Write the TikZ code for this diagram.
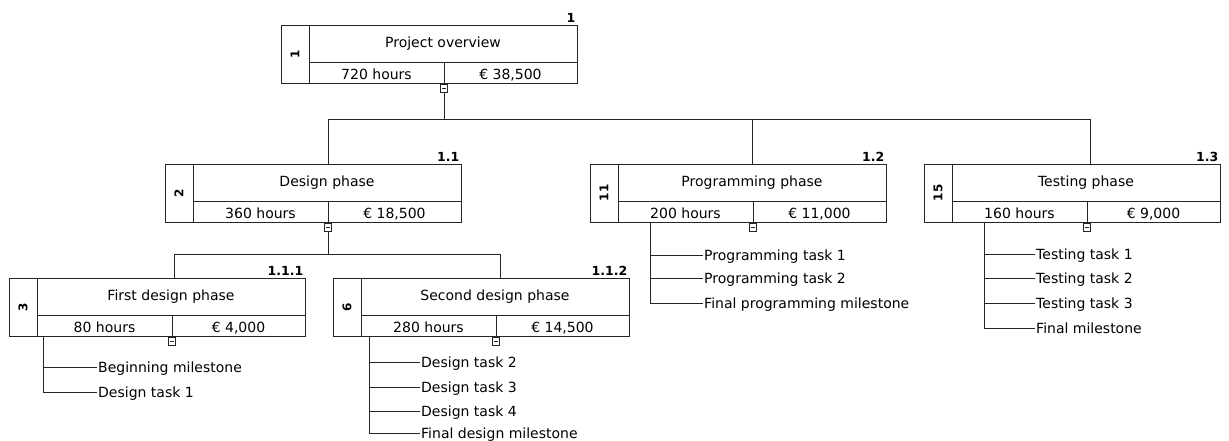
\documentclass[tikz,border=0pt]{standalone}
\usepackage{fontspec}
\setmainfont{DejaVu Sans}
\usetikzlibrary{calc}
\tikzset{
 wbsline/.style={line width=0.9pt, draw=black!85},
 wbsouter/.style={wbsline, draw, minimum width=296pt, minimum height=58pt, inner sep=0pt, outer sep=0pt, anchor=north west},
 wbstext/.style={inner sep=0pt, font=\fontsize{14}{16}\selectfont, text height=10.2pt, text depth=0pt},
 idtext/.style={inner sep=0pt, font=\bfseries\fontsize{12}{14}\selectfont, rotate=90},
 codetext/.style={inner sep=0pt, font=\bfseries\fontsize{12.5}{14}\selectfont, anchor=base east},
 minusbox/.style={wbsline, draw, fill=white, minimum width=7pt, minimum height=8pt, inner sep=0pt, outer sep=0pt, anchor=north},
 tasktext/.style={wbstext, anchor=west, inner sep=1pt}
}
\newcommand{\wbsbox}[8]{%
 \node[wbsouter] (#1) at (#2,#3) {};
 \draw[wbsline] ($(#1.north west)+(28,0)$) -- ($(#1.south west)+(28,0)$);
 \draw[wbsline] ($(#1.north west)+(28,37)$) -- ($(#1.north east)+(0,37)$);
 \draw[wbsline] ($(#1.north west)+(163,37)$) -- ($(#1.south west)+(163,0)$);
 \node[idtext] (#1-id) at ($(#1.north west)+(14,29)$) {#4};
 \node[wbstext] (#1-title) at ($(#1.north west)+(162,17.5)$) {#5};
 \node[wbstext] (#1-hours) at ($(#1.north west)+(95.5,49.5)$) {#6};
 \node[wbstext] (#1-cost) at ($(#1.north west)+(229.5,49.5)$) {#7};
 \node[codetext] (#1-code) at ($(#1.north east)+(-1.5,-2.5)$) {#8};
 \node[minusbox] (#1-m) at ($(#1.south west)+(163,1)$) {};
 \draw[wbsline, line width=0.6pt] ($(#1-m.center)+(-2,0)$) -- ($(#1-m.center)+(2,0)$);
}
\begin{document}
\begin{tikzpicture}[x=1pt, y=-1pt]
\useasboundingbox (0,0) rectangle (1229,441);
% boxes
\wbsbox{ov}{281}{25}{1}{Project overview}{720 hours}{€ 38,500}{1}
\wbsbox{des}{165}{164}{2}{Design phase}{360 hours}{€ 18,500}{1.1}
\wbsbox{prog}{590}{164}{11}{Programming phase}{200 hours}{€ 11,000}{1.2}
\wbsbox{test}{924}{164}{15}{Testing phase}{160 hours}{€ 9,000}{1.3}
\wbsbox{first}{9}{278}{3}{First design phase}{80 hours}{€ 4,000}{1.1.1}
\wbsbox{second}{333}{278}{6}{Second design phase}{280 hours}{€ 14,500}{1.1.2}
% connection points
\coordinate (bus1) at (0,119);
\coordinate (bus2) at (0,254);
\path (des.north west) ++(163,0) coordinate (des-in);
\path (prog.north west) ++(162,0) coordinate (prog-in);
\path (test.north west) ++(166,0) coordinate (test-in);
\path (first.north west) ++(165,0) coordinate (first-in);
\path (second.north west) ++(167,0) coordinate (second-in);
% level connectors
\draw[wbsline] (ov-m.south) -- (ov-m.south |- bus1) -| (des-in);
\draw[wbsline] (ov-m.south |- bus1) -| (prog-in);
\draw[wbsline] (ov-m.south |- bus1) -| (test-in);
\draw[wbsline] (des-m.south) -- (des-m.south |- bus2) -| (first-in);
\draw[wbsline] (des-m.south |- bus2) -| (second-in);
% task lists: first design phase
\path (first.south west) ++(34,0) coordinate (first-t);
\node[tasktext] (first-t1) at (97,367) {Beginning milestone};
\node[tasktext] (first-t2) at (97,392) {Design task 1};
\draw[wbsline] (first-t) |- (first-t1.west);
\draw[wbsline] (first-t) |- (first-t2.west);
% second design phase
\path (second.south west) ++(36,0) coordinate (second-t);
\node[tasktext] (second-t1) at (420,362) {Design task 2};
\node[tasktext] (second-t2) at (420,387) {Design task 3};
\node[tasktext] (second-t3) at (420,411) {Design task 4};
\node[tasktext] (second-t4) at (420,433) {Final design milestone};
\foreach \i in {1,...,4} {\draw[wbsline] (second-t) |- (second-t\i.west);}
% programming phase
\path (prog.south west) ++(60,0) coordinate (prog-t);
\node[tasktext] (prog-t1) at (703,255) {Programming task 1};
\node[tasktext] (prog-t2) at (703,278) {Programming task 2};
\node[tasktext] (prog-t3) at (703,303) {Final programming milestone};
\foreach \i in {1,...,3} {\draw[wbsline] (prog-t) |- (prog-t\i.west);}
% testing phase
\path (test.south west) ++(60,0) coordinate (test-t);
\node[tasktext] (test-t1) at (1035,254) {Testing task 1};
\node[tasktext] (test-t2) at (1035,278) {Testing task 2};
\node[tasktext] (test-t3) at (1035,303) {Testing task 3};
\node[tasktext] (test-t4) at (1035,328) {Final milestone};
\foreach \i in {1,...,4} {\draw[wbsline] (test-t) |- (test-t\i.west);}
\end{tikzpicture}
\end{document}
